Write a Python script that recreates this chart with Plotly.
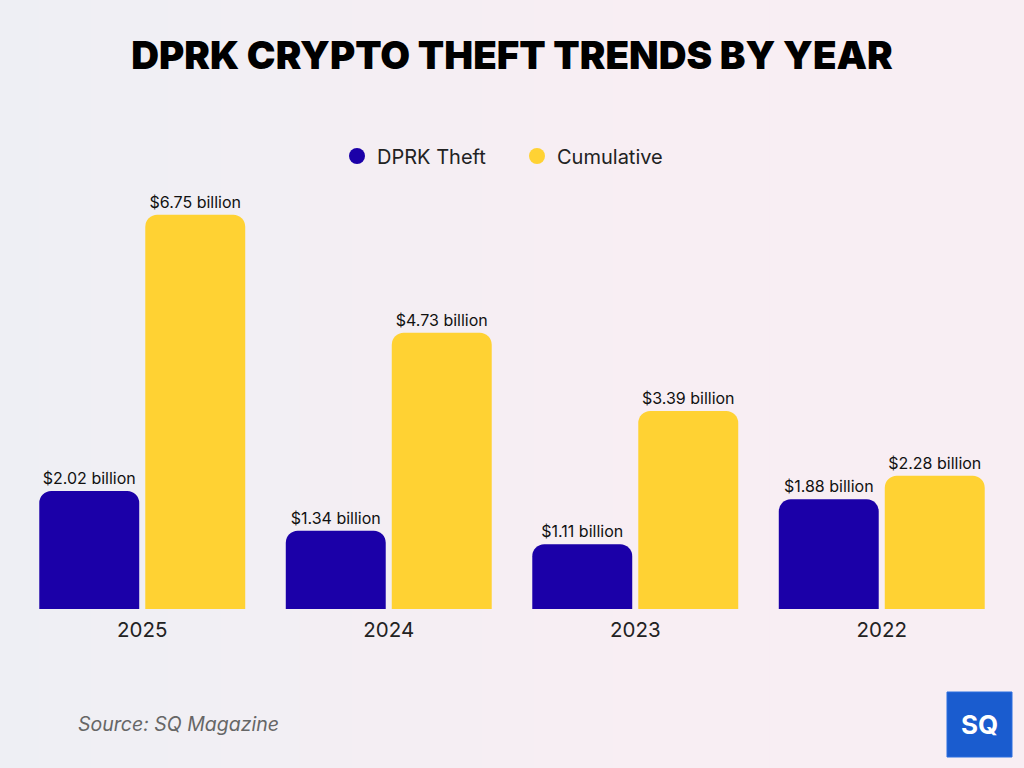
import plotly.graph_objects as go

years = ["2025", "2024", "2023", "2022"]
dprk_theft = [2.02, 1.34, 1.11, 1.88]
cumulative = [6.75, 4.73, 3.39, 2.28]
series_names = ["DPRK Theft", "Cumulative"]
colors = ["#1b00a8", "#ffd233"]

def labels(vals):
    return [f"${v:.2f} billion" for v in vals]

fig = go.Figure()

# background gradient strips
n = 40
for i in range(n):
    t = i / (n - 1)
    c0 = (238, 240, 245)
    c1 = (248, 238, 243)
    tt = min(1, t * 1.6)
    col = tuple(int(c0[k] + (c1[k] - c0[k]) * tt) for k in range(3))
    fig.add_shape(type="rect", xref="paper", yref="paper", layer="below",
                  x0=-0.03 + i * 1.06 / n - 0.03, x1=-0.03 + (i + 1) * 1.06 / n, y0=-0.5, y1=1.5,
                  fillcolor=f"rgb{col}", line_width=0)

for name, vals, col in zip(series_names, [dprk_theft, cumulative], colors):
    fig.add_trace(go.Bar(
        x=years, y=vals, name=name, marker=dict(color=col, cornerradius=12, line_width=0),
        text=labels(vals), textposition="outside", cliponaxis=False,
        textfont=dict(family="Inter", size=16, color="#111111"),
        showlegend=False, hoverinfo="skip"))
    fig.add_trace(go.Scatter(
        x=[None], y=[None], mode="markers", name=name,
        marker=dict(color=col, size=22, symbol="circle"), showlegend=True))

fig.update_layout(
    width=1024, height=768,
    margin=dict(l=19, r=19, t=171, b=159),
    paper_bgcolor="rgba(0,0,0,0)", plot_bgcolor="rgba(0,0,0,0)",
    barmode="group", bargap=0.14, bargroupgap=0.057,
    title=dict(text="DPRK CRYPTO THEFT TRENDS BY YEAR", x=0.5, xanchor="center",
               y=1 - 56 / 768, yanchor="middle",
               font=dict(family="Inter", size=38.5, color="#000000", weight=900)),
    xaxis=dict(showgrid=False, zeroline=False, showline=False, ticks="",
               tickfont=dict(family="Inter", size=20.5, color="#222222"), ticklabelstandoff=6),
    yaxis=dict(visible=False, range=[0, 7.5]),
    legend=dict(orientation="h", x=0.5 + 5 / 986, xanchor="center", y=1 + (171 - 156) / 438, yanchor="middle",
                font=dict(family="Inter", size=20, color="#222222"), itemsizing="trace",
                bgcolor="rgba(0,0,0,0)", traceorder="normal", itemwidth=30,
                entrywidth=135, entrywidthmode="pixels"),
    showlegend=True,
)

fig.add_annotation(text="Source: SQ Magazine", xref="paper", yref="paper",
                   x=(76 - 19) / 986, y=-(724 - 609) / 438, xanchor="left", yanchor="middle",
                   showarrow=False, font=dict(family="Inter", size=19.5, color="#666666", style="italic"))

# logo
fig.add_shape(type="rect", xref="paper", yref="paper",
              x0=(947 - 19) / 986, x1=(1012 - 19) / 986,
              y0=-(757 - 609) / 438, y1=-(692 - 609) / 438,
              fillcolor="#1a5ccf", line=dict(color="#2a6fe0", width=1))
fig.add_annotation(text="<b>SQ</b>", xref="paper", yref="paper",
                   x=(979.5 - 19) / 986, y=-(724 - 609) / 438, xanchor="center", yanchor="middle",
                   showarrow=False, font=dict(family="Inter", size=26, color="#ffffff"))

fig.write_html("out.html")
